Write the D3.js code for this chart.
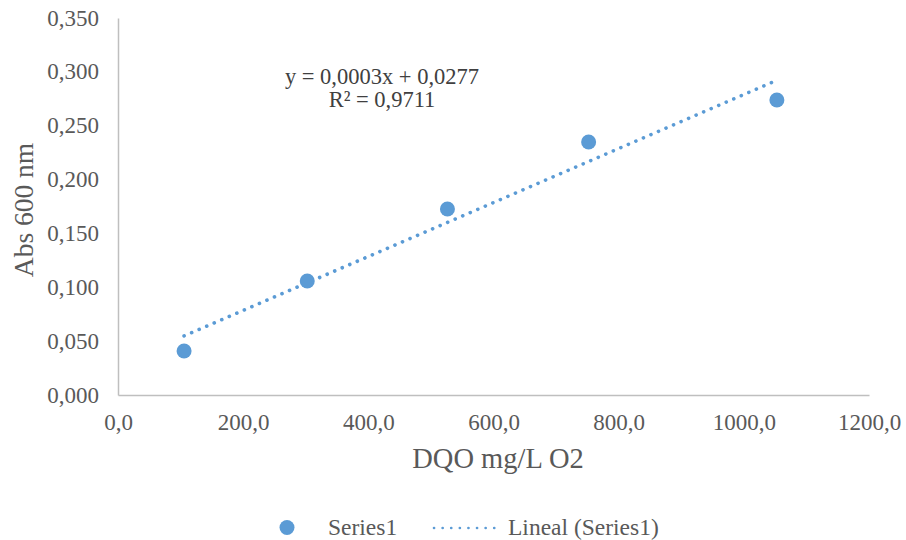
<!DOCTYPE html>
<html>
<head>
<meta charset="utf-8">
<script src="https://cdn.jsdelivr.net/npm/d3@7/dist/d3.min.js"></script>
<style>
  html, body { margin: 0; padding: 0; background: #fff; }
  svg text { font-family: "Liberation Serif", "Times New Roman", serif; }
</style>
</head>
<body>
<svg id="chart" width="906" height="540"></svg>
<script>
// Calibration data: COD (mg/L O2) vs absorbance at 600 nm
const dqo = [105.6, 302.4, 526.4, 752.0, 1052.8];
const abs = [0.0408, 0.1058, 0.1727, 0.2349, 0.2739];

const xTicks = [0, 200, 400, 600, 800, 1000, 1200];
const yTicks = [0, 0.05, 0.10, 0.15, 0.20, 0.25, 0.30, 0.35];

const equationLines = ["y = 0,0003x + 0,0277", "R² = 0,9711"];
const legendLabels = ["Series1", "Lineal (Series1)"];

const blue = "#5B9BD5";
const textGray = "#595959";
const axisGray = "#BFBFBF";

const svg = d3.select("#chart");
const margin = { left: 118, right: 37, top: 18, bottom: 145 };
const W = 906, H = 540;

const x = d3.scaleLinear().domain([0, 1200]).range([margin.left, W - margin.right]);
const y = d3.scaleLinear().domain([0, 0.35]).range([H - margin.bottom, margin.top]);

const fmt1 = d => d3.format(".1f")(d).replace(".", ",");
const fmt3 = d => d3.format(".3f")(d).replace(".", ",");

// Axes (no tick marks, labels only)
const xAxis = svg.append("g")
  .attr("transform", `translate(0,${y(0)})`)
  .call(d3.axisBottom(x).tickValues(xTicks).tickFormat(fmt1).tickSize(0));
const yAxis = svg.append("g")
  .attr("transform", `translate(${x(0)},0)`)
  .call(d3.axisLeft(y).tickValues(yTicks).tickFormat(fmt3).tickSize(0));

[xAxis, yAxis].forEach(g => {
  g.select(".domain").attr("stroke", axisGray).attr("stroke-width", 1.5);
  g.selectAll("text").attr("fill", textGray).attr("font-size", 23)
    .attr("font-family", '"Liberation Serif", "Times New Roman", serif');
});
xAxis.selectAll("text").attr("y", 35).attr("dy", 0);
yAxis.selectAll("text").attr("x", -19).attr("dy", 7);

// Linear least-squares trendline
const mx = d3.mean(dqo), my = d3.mean(abs);
const sxy = d3.sum(dqo, (d, i) => (d - mx) * (abs[i] - my));
const sxx = d3.sum(dqo, d => (d - mx) ** 2);
const slope = sxy / sxx;
const intercept = my - slope * mx;
const xr = d3.extent(dqo);

svg.append("line")
  .attr("x1", x(xr[0])).attr("y1", y(intercept + slope * xr[0]))
  .attr("x2", x(xr[1])).attr("y2", y(intercept + slope * xr[1]))
  .attr("stroke", blue).attr("stroke-width", 3.6)
  .attr("stroke-linecap", "round")
  .attr("stroke-dasharray", "0.1 8.1");

// Data points
svg.append("g").selectAll("circle")
  .data(dqo.map((d, i) => [d, abs[i]]))
  .join("circle")
  .attr("cx", d => x(d[0])).attr("cy", d => y(d[1]))
  .attr("r", 7.5).attr("fill", blue);

// Trendline equation
svg.append("text")
  .attr("text-anchor", "middle").attr("font-size", 22.5).attr("fill", "#404040")
  .selectAll("tspan").data(equationLines).join("tspan")
  .attr("x", 382).attr("y", (d, i) => i === 0 ? 84 : 107)
  .text(d => d);

// Axis titles
svg.append("text")
  .attr("x", 498).attr("y", 468)
  .attr("text-anchor", "middle").attr("font-size", 28.5).attr("fill", textGray)
  .text("DQO mg/L O2");
svg.append("text")
  .attr("transform", `translate(33,210) rotate(-90)`)
  .attr("text-anchor", "middle").attr("font-size", 27.5).attr("fill", textGray)
  .text("Abs 600 nm");

// Legend
const lg = svg.append("g");
lg.append("circle").attr("cx", 287).attr("cy", 527.5).attr("r", 7.5).attr("fill", blue);
lg.append("text").attr("x", 328).attr("y", 535).attr("font-size", 23.5).attr("fill", textGray)
  .text(legendLabels[0]);
lg.append("line").attr("x1", 434).attr("x2", 502).attr("y1", 528).attr("y2", 528)
  .attr("stroke", blue).attr("stroke-width", 2.6).attr("stroke-linecap", "round")
  .attr("stroke-dasharray", "0.1 8.5");
lg.append("text").attr("x", 508).attr("y", 535).attr("font-size", 23.5).attr("fill", textGray)
  .text(legendLabels[1]);
</script>
</body>
</html>
